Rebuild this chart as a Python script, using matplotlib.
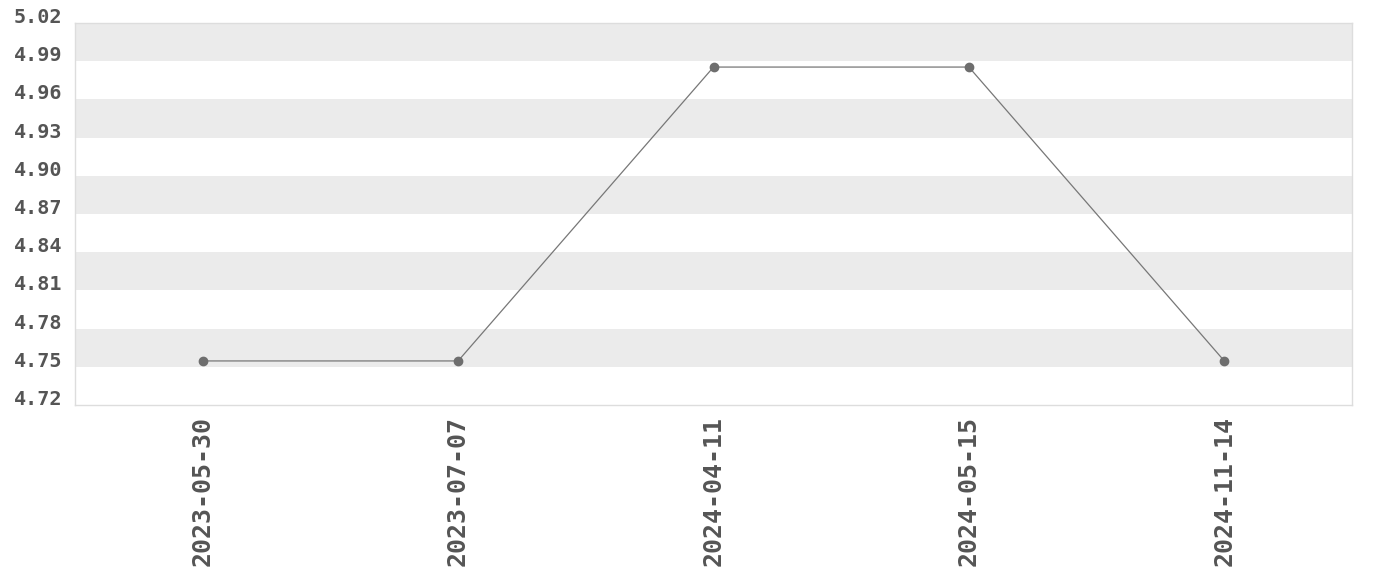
import matplotlib
matplotlib.use("Agg")
import matplotlib.pyplot as plt

dates = ["2023-05-30", "2023-07-07", "2024-04-11", "2024-05-15", "2024-11-14"]
values = [4.7546, 4.7546, 4.9854, 4.9854, 4.7546]
y_ticks = [4.72, 4.75, 4.78, 4.81, 4.84, 4.87, 4.90, 4.93, 4.96, 4.99, 5.02]
y_labels = ["4.72", "4.75", "4.78", "4.81", "4.84", "4.87", "4.90", "4.93", "4.96", "4.99", "5.02"]

fig = plt.figure(figsize=(13.8, 5.8), dpi=100)
ax = fig.add_axes([75/1380, 1 - 405/580, (1352-75)/1380, (405-23)/580])

x = list(range(len(dates)))
ax.set_xlim(-0.5, len(dates) - 0.5)
ax.set_ylim(y_ticks[0], y_ticks[-1])

# alternating bands, gray starting from the top
for i in range(len(y_ticks) - 1):
    if (len(y_ticks) - 2 - i) % 2 == 0:
        ax.axhspan(y_ticks[i], y_ticks[i + 1], color="#ebebeb", lw=0, zorder=0)

ax.plot(x, values, color="#777777", lw=0.9, marker="o", markersize=6,
        markerfacecolor="#6e6e6e", markeredgecolor="#6e6e6e", zorder=3)

ax.set_yticks(y_ticks)
ax.set_yticklabels(y_labels, fontfamily="DejaVu Sans Mono", fontweight="bold",
                   fontsize=14.5, color="#555555", va="baseline")

ax.set_xticks(x)
ax.set_xticklabels(dates, rotation=90, fontfamily="DejaVu Sans Mono",
                   fontweight="bold", fontsize=18, color="#555555")
ax.tick_params(axis="both", length=0)
ax.tick_params(axis="y", pad=9)
ax.tick_params(axis="x", pad=8)

for s in ax.spines.values():
    s.set_color("#dddddd")
    s.set_linewidth(1)

fig.savefig("out.png", dpi=100)
